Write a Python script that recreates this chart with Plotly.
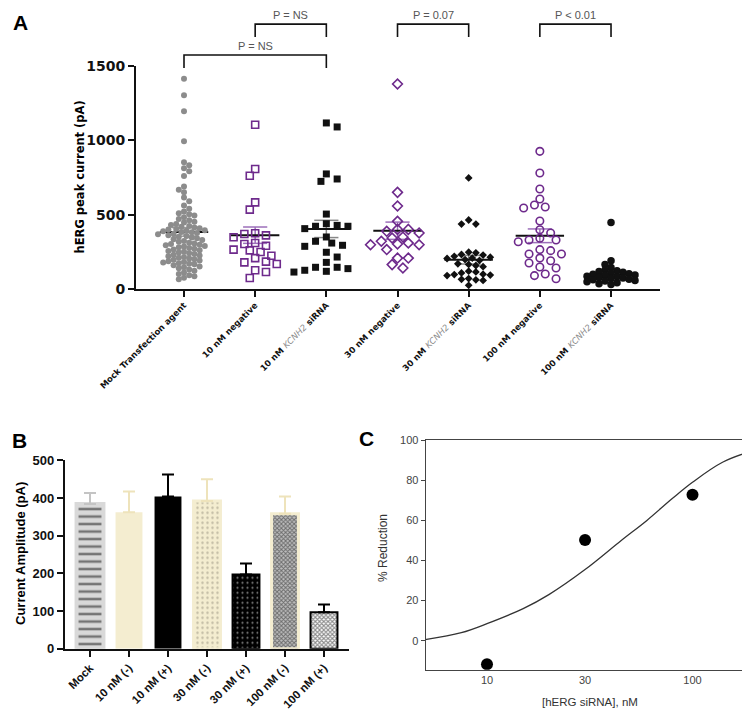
import plotly.graph_objects as go

W, H = 750, 711

# ---------------- data ----------------
groups_A = ["Mock Transfection agent", "10 nM negative", "10 nM KCNH2 siRNA",
            "30 nM negative", "30 nM KCNH2 siRNA", "100 nM negative", "100 nM KCNH2 siRNA"]
KC = "<span style='color:#8a8a8a;font-weight:normal'><i>KCNH2</i></span>"
tick_text_A = ["Mock Transfection agent", "10 nM negative", "10 nM " + KC + " siRNA",
               "30 nM negative", "30 nM " + KC + " siRNA", "100 nM negative", "100 nM " + KC + " siRNA"]

mock_vals = [1415, 1303, 1195, 993, 853, 832, 812, 792, 760, 690, 668, 650, 615, 590, 562, 540,
             522, 510, 503, 494, 483, 471, 462, 452, 447, 438, 431, 424, 418, 413, 409, 404, 400,
             396, 392, 388, 384, 381, 377, 372, 368, 361, 357, 352, 346, 341, 334, 329, 323, 318,
             311, 306, 302, 298, 294, 290, 286, 281, 276, 270, 266, 261, 256, 251, 246, 241, 236,
             231, 226, 221, 216, 210, 205, 200, 196, 191, 186, 182, 178, 174, 170, 166, 160, 152,
             146, 139, 131, 122, 111, 101, 92, 86, 75, 66]
neg10_vals = [1105, 807, 762, 583, 534, 370, 361, 348, 375, 309, 260, 184, 303, 265, 224, 179,
              126, 74, 291, 249, 208, 168, 114]
kcnh10_vals = [1117, 1090, 740, 774, 724, 504, 422, 422, 406, 439, 428, 350, 321, 287, 309, 294,
               247, 215, 179, 119, 146, 126, 137, 146, 114]
neg30_vals = [1379, 650, 558, 455, 401, 388, 377, 401, 321, 343, 350, 309, 298, 303, 298, 265,
              208, 208, 164, 141]
kcnh30_vals = [747, 464, 437, 437, 248, 243, 232, 228, 220, 214, 208, 205, 198, 192, 170, 165,
               158, 150, 120, 115, 108, 100, 97, 94, 90, 70, 65, 62, 58, 25]
neg100_vals = [926, 780, 673, 605, 545, 552, 565, 457, 399, 377, 330, 318, 341, 330, 258, 265,
               235, 235, 208, 190, 175, 148, 141, 101, 90, 69]
kcnh100_vals = [448, 190, 165, 145, 128, 122, 117, 112, 108, 103, 99, 95, 90, 86, 82, 78, 74, 70,
                66, 62, 58, 53, 48, 42, 36, 30]

group_means = [384, 362, 404, 392, 197, 358, 97]
group_sems = [29, 55, 58, 58, 29, 46, 20]

bracket_pairs = [(1, 2), (0, 2), (3, 4), (5, 6)]
bracket_labels = ["P = NS", "P = NS", "P = 0.07", "P < 0.01"]
bracket_tiers = [0, 1, 0, 0]

bar_labels_B = ["Mock", "10 nM (-)", "10 nM (+)", "30 nM (-)", "30 nM (+)", "100 nM (-)", "100 nM (+)"]

conc_C = [10, 30, 100]
reduction_C = [-11.8, 50.2, 72.8]
fit_conc_C = [5, 7.5, 10, 15, 20, 30, 45, 60, 80, 100, 140, 200]
fit_red_C = [0.5, 4, 8.5, 16, 23, 35.5, 50, 60, 71, 79, 89, 95]

# ---------------- geometry helpers ----------------
def xdom(a, b):
    return [a / W, b / W]

def ydom(top, bottom):
    return [1 - bottom / H, 1 - top / H]

def px(x, y):
    return x / W, 1 - y / H

A_left, A_right, A_top, A_bot = 128, 652, 58, 281
A_cat0, A_step = 176, 71.17
A_ymax = 1500
A_ysc = (A_bot - A_top) / A_ymax
A_xrange = [(A_left - A_cat0) / A_step, (A_right - A_cat0) / A_step]

B_left, B_right, B_top, B_bot = 57, 341, 452.3, 640.7
B_cat0, B_step = 82, 39.0
B_xrange = [(B_left - B_cat0) / B_step, (B_right - B_cat0) / B_step]

C_left, C_right, C_top, C_bot = 417.7, 746.7, 432.2, 661.7
C_dec, C_x10 = 205.5, 479.0
C_y0, C_ypu = 632.7, 2.005
C_xrange = [1 - (C_x10 - C_left) / C_dec, 1 + (C_right - C_x10) / C_dec]
C_yrange = [-(C_bot - C_y0) / C_ypu, (C_y0 - C_top) / C_ypu]

PURPLE = "#6e2a8c"
CREAM = "#f4edd0"


def swarm_offsets(vals, D, step):
    order = sorted(range(len(vals)), key=lambda i: -vals[i])
    placed = []
    offs = [0.0] * len(vals)
    for n, i in enumerate(order):
        y = vals[i] * A_ysc
        cands = [0.0]
        for m in range(1, 80):
            cands += ([m * step, -m * step] if n % 2 else [-m * step, m * step])
        chosen = 0.0
        for c in cands:
            if all((c - qx) ** 2 + (y - qy) ** 2 >= D * D for qx, qy in placed):
                chosen = c
                break
        placed.append((chosen, y))
        offs[i] = chosen / A_step
    return offs


fig = go.Figure()

# ---------------- Panel A ----------------
all_vals = [mock_vals, neg10_vals, kcnh10_vals, neg30_vals, kcnh30_vals, neg100_vals, kcnh100_vals]
marker_styles = [
    dict(symbol="circle", size=6, color="#8c8c8c", line=dict(width=0)),
    dict(symbol="square-open", size=7, color=PURPLE, line=dict(width=1.6)),
    dict(symbol="square", size=7, color="#111111", line=dict(width=0)),
    dict(symbol="diamond-open", size=7.5, color=PURPLE, line=dict(width=1.6)),
    dict(symbol="diamond", size=6, color="#111111", line=dict(width=0)),
    dict(symbol="circle-open", size=7.5, color=PURPLE, line=dict(width=1.6)),
    dict(symbol="circle", size=7.5, color="#111111", line=dict(width=0)),
]
swarm_params = [(5.0, 2.6), (8.0, 5.4), (8.0, 5.4), (8.0, 5.4), (6.0, 3.6), (8.0, 5.4), (5.5, 3.0)]
sem_colors = ["#9a9a9a", "#9d6fba", "#888888", "#9d6fba", "#888888", "#9d6fba", "#888888"]

for g in range(len(groups_A)):
    m, s = group_means[g], group_sems[g]
    fig.add_trace(go.Scatter(
        x=[g, g, None, g - 0.17, g + 0.17, None, g - 0.17, g + 0.17],
        y=[m - s, m + s, None, m + s, m + s, None, m - s, m - s],
        mode="lines", line=dict(color=sem_colors[g], width=1.5),
        xaxis="x", yaxis="y", hoverinfo="skip"))
    fig.add_trace(go.Scatter(
        x=[g - 0.34, g + 0.34], y=[m, m], mode="lines",
        line=dict(color="#111111", width=2), xaxis="x", yaxis="y", hoverinfo="skip"))

for g, vals in enumerate(all_vals):
    D, step = swarm_params[g]
    offs = swarm_offsets(vals, D, step)
    fig.add_trace(go.Scatter(
        x=[g + o for o in offs], y=vals, mode="markers",
        marker=marker_styles[g], xaxis="x", yaxis="y", name=groups_A[g]))

# brackets (overlay axes x2/y2 sharing the A scale)
tier_level = {0: 1782, 1: 1574}
drop = 87
bx, by = [], []
for (a, b), t in zip(bracket_pairs, bracket_tiers):
    L = tier_level[t]
    bx += [a, a, b, b, None]
    by += [L - drop, L, L, L - drop, None]
fig.add_trace(go.Scatter(x=bx, y=by, mode="lines", line=dict(color="#111111", width=1.6),
                         xaxis="x2", yaxis="y2", hoverinfo="skip"))

annotations = []
for (a, b), t, lab in zip(bracket_pairs, bracket_tiers, bracket_labels):
    annotations.append(dict(x=(a + b) / 2, y=tier_level[t], xref="x2", yref="y2", text=lab,
                            showarrow=False, yanchor="bottom", yshift=1,
                            font=dict(family="Liberation Sans, Arial", size=11, color="#555555")))

# ---------------- Panel B ----------------
bar_styles = [
    dict(color="#d9d9d9", line=dict(color="#d9d9d9", width=4),
         pattern=dict(shape="-", bgcolor="#d9d9d9", fgcolor="#111111", size=7.5, solidity=0.34)),
    dict(color=CREAM, line=dict(width=0)),
    dict(color="#000000", line=dict(width=0)),
    dict(color=CREAM, line=dict(color=CREAM, width=3),
         pattern=dict(shape=".", bgcolor=CREAM, fgcolor="#8f8a78", size=5, solidity=0.18)),
    dict(color="#000000", line=dict(color="#000000", width=2),
         pattern=dict(shape=".", bgcolor="#000000", fgcolor="#ffffff", size=5, solidity=0.15)),
    dict(color=CREAM, line=dict(color=CREAM, width=3),
         pattern=dict(shape="x", bgcolor="#bdbdbd", fgcolor="#1a1a1a", size=3, solidity=0.55)),
    dict(color="#000000", line=dict(color="#000000", width=2),
         pattern=dict(shape="x", bgcolor="#ffffff", fgcolor="#1a1a1a", size=3, solidity=0.6)),
]
err_colors = ["#c4c4c4", "#eee3bb", "#000000", "#eee3bb", "#000000", "#eee3bb", "#000000"]
for i in range(len(bar_labels_B)):
    fig.add_trace(go.Bar(
        x=[i], y=[group_means[i]], width=0.69, marker=bar_styles[i],
        error_y=dict(type="data", symmetric=False, array=[group_sems[i]], arrayminus=[0],
                     color=err_colors[i], thickness=2, width=6),
        xaxis="x3", yaxis="y3", name=bar_labels_B[i]))

# ---------------- Panel C ----------------
fig.add_trace(go.Scatter(x=fit_conc_C, y=fit_red_C, mode="lines", line_shape="spline",
                         line=dict(color="#333333", width=1.3), xaxis="x4", yaxis="y4",
                         hoverinfo="skip"))
fig.add_trace(go.Scatter(x=conc_C, y=reduction_C, mode="markers",
                         marker=dict(color="#000000", size=12), xaxis="x4", yaxis="y4"))

# ---------------- text annotations ----------------
def ann(x, y, text, size, bold=False, angle=0, family="Liberation Sans, Arial", color="#000000"):
    ax, ay = px(x, y)
    annotations.append(dict(x=ax, y=ay, xref="paper", yref="paper", text=text, showarrow=False,
                            textangle=angle, xanchor="center", yanchor="middle",
                            font=dict(family=family, size=size, color=color,
                                      weight="bold" if bold else "normal")))

ann(12, 14, "A", 21, bold=True)
ann(11, 432, "B", 21, bold=True)
ann(358, 430, "C", 21, bold=True)
ann(72, 169.5, "hERG peak current (pA)", 11.5, bold=True, angle=-90, family="DejaVu Sans")
ann(12, 546, "Current Amplitude (pA)", 13, bold=True, angle=-90)
ann(375, 540, "% Reduction", 12, angle=-90, color="#333333")
ann(582, 694, "[hERG siRNA], nM", 11.5, color="#333333")

axis_common = dict(showgrid=False, zeroline=False, automargin=False)

fig.update_layout(
    width=W, height=H, margin=dict(l=0, r=0, t=0, b=0, pad=0, autoexpand=False),
    paper_bgcolor="white", plot_bgcolor="rgba(0,0,0,0)", showlegend=False,
    barmode="overlay", annotations=annotations,
    xaxis=dict(domain=xdom(A_left, A_right), range=A_xrange, anchor="y",
               showline=True, linecolor="#111111", linewidth=2,
               ticks="outside", ticklen=6, tickwidth=2, tickcolor="#111111",
               tickvals=list(range(len(groups_A))), ticktext=tick_text_A, tickangle=-45,
               tickfont=dict(family="DejaVu Sans", size=8.5, color="#111111", weight="bold"),
               **axis_common),
    yaxis=dict(domain=ydom(A_top, A_bot), range=[0, A_ymax], anchor="x",
               showline=True, linecolor="#111111", linewidth=2,
               ticks="outside", ticklen=6, tickwidth=2, tickcolor="#111111",
               tickvals=[0, 500, 1000, 1500],
               tickfont=dict(family="DejaVu Sans", size=14, color="#111111", weight="bold"),
               **axis_common),
    xaxis2=dict(domain=xdom(A_left, A_right), range=A_xrange, anchor="y2", visible=False,
                **axis_common),
    yaxis2=dict(domain=ydom(0, A_bot), range=[0, A_bot / A_ysc], anchor="x2", visible=False,
                **axis_common),
    xaxis3=dict(domain=xdom(B_left, B_right), range=B_xrange, anchor="y3",
                showline=True, linecolor="#111111", linewidth=2.2,
                ticks="outside", ticklen=6, tickwidth=2, tickcolor="#111111",
                tickvals=list(range(len(bar_labels_B))), ticktext=bar_labels_B, tickangle=-45,
                tickfont=dict(family="Liberation Sans, Arial", size=11.5, color="#111111",
                              weight="bold"),
                **axis_common),
    yaxis3=dict(domain=ydom(B_top, B_bot), range=[0, 500], anchor="x3",
                showline=True, linecolor="#111111", linewidth=2.2,
                ticks="outside", ticklen=6, tickwidth=2, tickcolor="#111111",
                tickvals=[0, 100, 200, 300, 400, 500],
                tickfont=dict(family="Liberation Sans, Arial", size=13, color="#111111",
                              weight="bold"),
                **axis_common),
    xaxis4=dict(domain=xdom(C_left, C_right), type="log", range=C_xrange, anchor="y4",
                showline=True, mirror=True, linecolor="#444444", linewidth=1.2,
                ticks="", tickvals=conc_C, ticktext=[str(c) for c in conc_C],
                tickfont=dict(family="Liberation Sans, Arial", size=11, color="#444444"),
                **axis_common),
    yaxis4=dict(domain=ydom(C_top, C_bot), range=C_yrange, anchor="x4",
                showline=True, mirror=True, linecolor="#444444", linewidth=1.2,
                ticks="outside", ticklen=4, tickwidth=1, tickcolor="#444444",
                tickvals=[0, 20, 40, 60, 80, 100],
                tickfont=dict(family="Liberation Sans, Arial", size=11, color="#444444"),
                **axis_common),
)

fig.write_html("out.html")
